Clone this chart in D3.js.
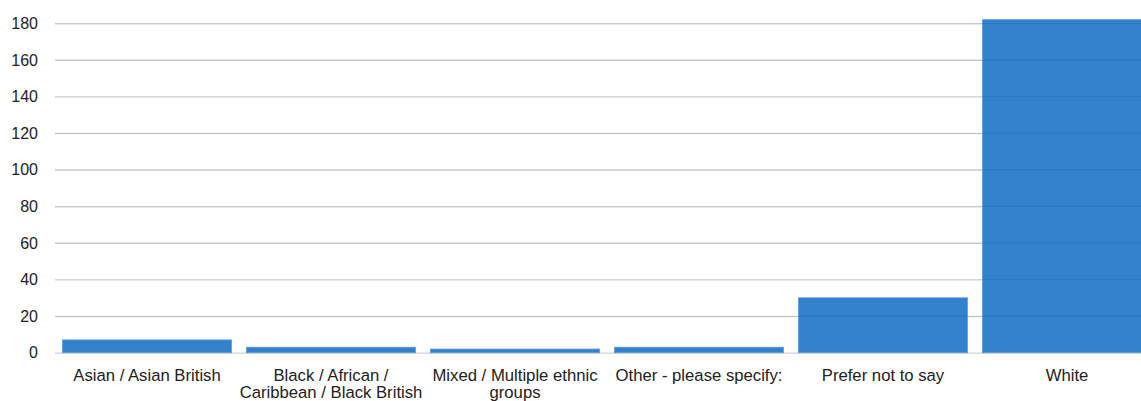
<!DOCTYPE html>
<html>
<head>
<meta charset="utf-8">
<script src="https://cdn.jsdelivr.net/npm/d3@7"></script>
<style>
  body { margin: 0; background: #fff; }
  text { font-family: "Liberation Sans", Arial, sans-serif; fill: #222; }
</style>
</head>
<body>
<script>
// data
const categories = [
    ['Asian / Asian British'],
    ['Black / African /', 'Caribbean / Black British'],
    ['Mixed / Multiple ethnic', 'groups'],
    ['Other - please specify:'],
    ['Prefer not to say'],
    ['White']
];
const counts = [7, 3, 2, 3, 30, 182];
const yTicks = [0, 20, 40, 60, 80, 100, 120, 140, 160, 180];

const SIZE = { width: 1141, height: 401, left: 55, top: 23.3, bottom: 352.7 };

const svg = d3.select('body').append('svg')
    .attr('width', SIZE.width)
    .attr('height', SIZE.height);

const keys = categories.map((c, i) => i);

const x = d3.scaleBand()
    .domain(keys)
    .range([SIZE.left, SIZE.left + 1104])
    .paddingInner(0.0815)
    .paddingOuter(0.0408);

const y = d3.scaleLinear()
    .domain([0, 180])
    .range([SIZE.bottom, SIZE.top]);

// gridlines
const yAxis = d3.axisLeft(y)
    .tickValues(yTicks)
    .tickSize(-(SIZE.width - SIZE.left))
    .tickPadding(17);

const yAxisGroup = svg.append('g')
    .attr('transform', `translate(${SIZE.left},0)`)
    .call(yAxis);
yAxisGroup.select('.domain').remove();
yAxisGroup.selectAll('.tick line').attr('stroke', '#cfcfcf').attr('stroke-width', 1.2);
yAxisGroup.selectAll('.tick text')
    .attr('font-size', 16)
    .attr('fill', '#222')
    .attr('font-family', '"Liberation Sans", Arial, sans-serif');

// bars
svg.append('g').selectAll('rect')
    .data(counts)
    .join('rect')
    .attr('x', (d, i) => x(i))
    .attr('y', d => y(d))
    .attr('width', x.bandwidth())
    .attr('height', d => y(0) - y(d))
    .attr('fill', '#3380cc')
    .attr('stroke', '#5d9be0')
    .attr('stroke-width', 0.8);

// faint gridlines showing through the bars
svg.append('g').selectAll('line')
    .data(yTicks.filter(t => t > 0))
    .join('line')
    .attr('x1', SIZE.left)
    .attr('x2', SIZE.width)
    .attr('y1', d => y(d))
    .attr('y2', d => y(d))
    .attr('stroke', '#000')
    .attr('stroke-opacity', 0.07)
    .attr('stroke-width', 1.2);

// category labels
const labels = svg.append('g').selectAll('text')
    .data(categories)
    .join('text')
    .attr('text-anchor', 'middle')
    .attr('font-size', 16.7)
    .attr('y', 381);

labels.selectAll('tspan')
    .data((d, i) => d.map(line => ({ line, i })))
    .join('tspan')
    .attr('x', d => x(d.i) + x.bandwidth() / 2)
    .attr('dy', (d, j) => j === 0 ? 0 : 17)
    .text(d => d.line);
</script>
</body>
</html>
